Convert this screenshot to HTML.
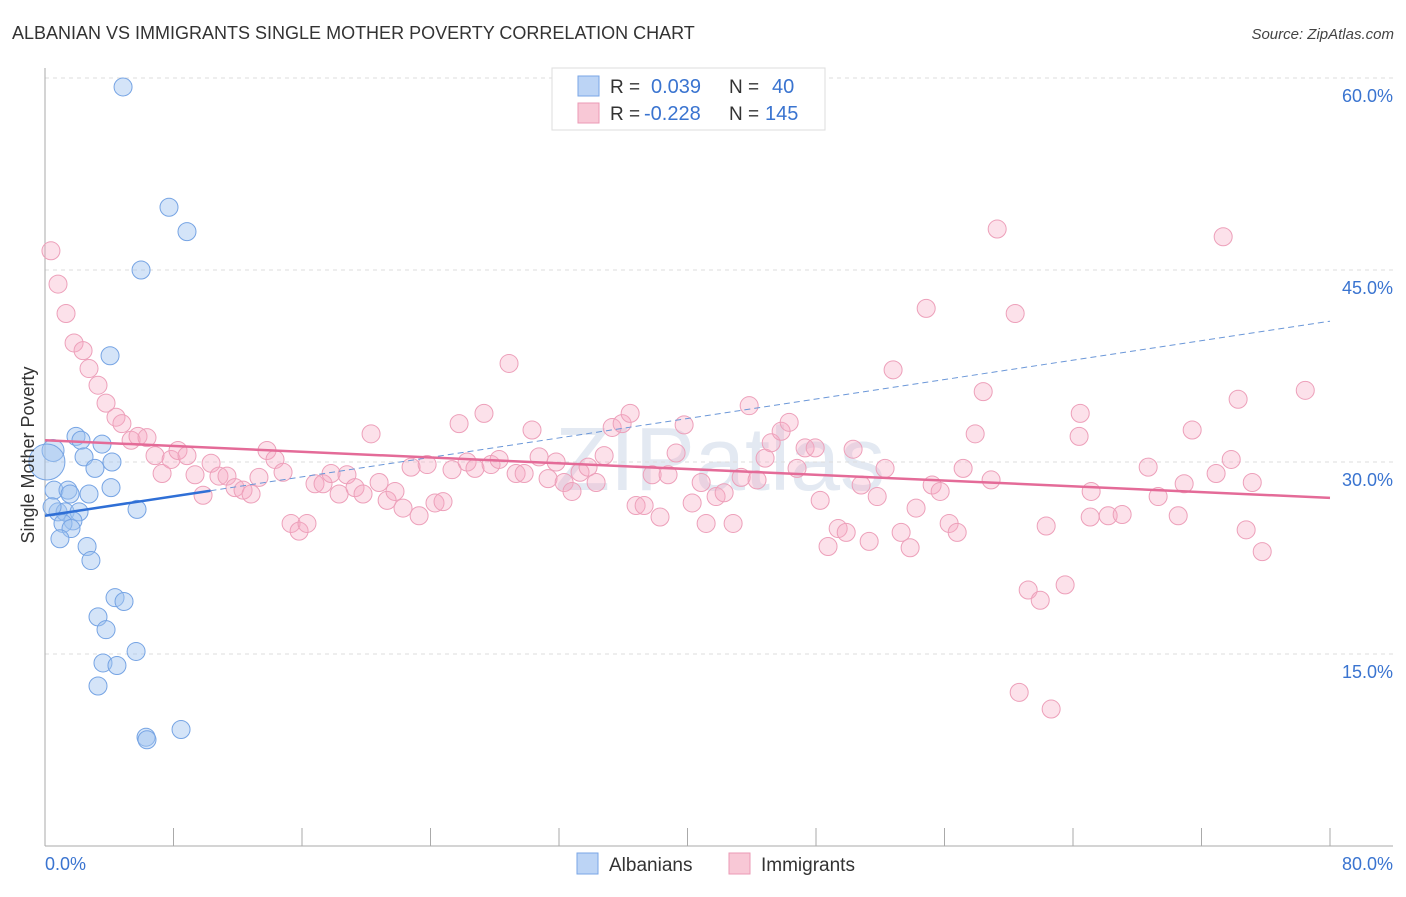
<!DOCTYPE html>
<html><head><meta charset="utf-8"><style>
body{margin:0;background:#fff;font-family:"Liberation Sans",sans-serif;}
svg text{font-family:"Liberation Sans",sans-serif;}
</style></head><body>
<svg id="chart" width="1406" height="892" viewBox="0 0 1406 892" xmlns="http://www.w3.org/2000/svg">
<text x="12" y="39" font-size="18" fill="#333">ALBANIAN VS IMMIGRANTS SINGLE MOTHER POVERTY CORRELATION CHART</text>
<text x="1394" y="39" font-size="15" fill="#444" text-anchor="end" font-style="italic">Source: ZipAtlas.com</text>
<text x="720" y="490" font-size="90" fill="#e3e9f2" text-anchor="middle" font-family="Liberation Serif">ZIPatlas</text>
<g id="grid"></g>
<g id="axes"></g>
<g id="points"></g>
<g id="trends"></g>
<text transform="translate(34,455) rotate(-90)" font-size="18" fill="#333" text-anchor="middle">Single Mother Poverty</text>
<g>
<rect x="552" y="68" width="273" height="62" fill="#fff" stroke="#ddd"/>
<rect x="578" y="76" width="21" height="20" fill="#bcd4f5" stroke="#7aa6e6"/>
<rect x="578" y="103" width="21" height="20" fill="#f8c8d6" stroke="#eb9ab5"/>
<text x="610" y="93" font-size="19" fill="#333">R =</text><text x="651" y="93" font-size="20" fill="#3a74d0">0.039</text>
<text x="729" y="93" font-size="19" fill="#333">N =</text><text x="772" y="93" font-size="20" fill="#3a74d0">40</text>
<text x="610" y="120" font-size="19" fill="#333">R =</text><text x="644" y="120" font-size="20" fill="#3a74d0">-0.228</text>
<text x="729" y="120" font-size="19" fill="#333">N =</text><text x="765" y="120" font-size="20" fill="#3a74d0">145</text>
</g>
<g>
<rect x="577" y="853" width="21" height="21" fill="#bcd4f5" stroke="#7aa6e6"/>
<text x="609" y="871" font-size="19" fill="#333">Albanians</text>
<rect x="729" y="853" width="21" height="21" fill="#f8c8d6" stroke="#eb9ab5"/>
<text x="761" y="871" font-size="19" fill="#333">Immigrants</text>
</g>
</svg>
<script>
const yTicks=[15,30,45,60];
const yTickLabels=["15.0%","30.0%","45.0%","60.0%"];
const xTicks=[0,8,16,24,32,40,48,56,64,72,80];
const xEndLabels=["0.0%","80.0%"];
const blueX=[4.86,7.72,8.84,5.98,4.05,0.5,1.93,2.24,3.55,0.12,2.43,4.17,3.11,0.56,1.43,1.56,2.74,4.11,5.73,0.81,1.25,2.12,1.74,1.12,1.62,0.93,2.62,2.86,4.36,4.92,3.30,3.80,5.67,3.61,4.48,3.30,6.29,6.35,8.47,0.44];
const blueY=[59.3,49.9,48.0,45.0,38.3,30.9,32.0,31.7,31.4,30.0,30.4,30.0,29.5,27.8,27.8,27.5,27.5,28.0,26.3,26.1,26.1,26.1,25.4,25.2,24.8,24.0,23.4,22.3,19.4,19.1,17.9,16.9,15.2,14.3,14.1,12.5,8.5,8.3,9.1,26.5];
const pinkX=[0.37,0.81,1.31,1.81,2.37,2.74,3.30,3.80,4.42,4.79,5.36,5.79,6.35,6.85,7.29,7.85,8.28,8.84,9.34,9.84,10.34,10.83,11.33,11.83,12.33,12.83,13.32,13.82,14.32,14.82,15.32,15.82,16.31,16.81,17.31,17.81,18.31,18.80,19.30,19.80,20.30,20.80,21.30,21.79,22.29,22.79,23.29,23.79,24.28,24.78,25.34,25.78,26.28,26.77,27.33,27.77,28.27,28.89,29.33,29.83,30.32,30.76,31.32,31.82,32.32,32.81,33.31,33.81,34.31,34.81,35.31,35.93,36.43,36.80,37.30,37.80,38.29,38.79,39.29,39.79,40.29,40.85,41.16,41.78,42.28,42.84,43.34,43.84,44.33,44.83,45.21,45.83,46.33,46.82,47.32,47.95,48.26,48.75,49.38,49.88,50.31,50.81,51.31,51.81,52.30,52.80,53.30,53.86,54.23,54.86,55.23,55.73,56.29,56.79,57.16,57.91,58.41,58.90,59.28,60.40,60.65,61.21,61.96,62.33,62.64,63.51,64.38,64.45,65.13,65.07,66.19,67.06,68.68,69.30,70.55,70.92,71.42,72.91,73.35,73.85,74.28,74.78,75.16,75.78,78.46];
const pinkY=[46.5,43.9,41.6,39.3,38.7,37.3,36.0,34.6,33.5,33.0,31.7,32.0,31.9,30.5,29.1,30.2,30.9,30.5,29.0,27.4,29.9,28.9,28.9,28.0,27.8,27.5,28.8,30.9,30.2,29.2,25.2,24.6,25.2,28.3,28.3,29.1,27.5,29.0,28.0,27.5,32.2,28.4,27.0,27.7,26.4,29.6,25.8,29.8,26.8,26.9,29.4,33.0,30.0,29.5,33.8,29.8,30.2,37.7,29.1,29.1,32.5,30.4,28.7,30.0,28.4,27.7,29.2,29.6,28.4,30.5,32.7,33.0,33.8,26.6,26.6,29.0,25.7,29.0,30.7,32.9,26.8,28.4,25.2,27.3,27.6,25.2,28.8,34.4,28.6,30.3,31.5,32.4,33.1,29.5,31.1,31.1,27.0,23.4,24.8,24.5,31.0,28.2,23.8,27.3,29.5,37.2,24.5,23.3,26.4,42.0,28.2,27.7,25.2,24.5,29.5,32.2,35.5,28.6,48.2,41.6,12.0,20.0,19.2,25.0,10.7,20.4,32.0,33.8,27.7,25.7,25.8,25.9,29.6,27.3,25.8,28.3,32.5,29.1,47.6,30.2,34.9,24.7,28.4,23.0,35.6];
const blueTrend=[25.8,41.0];
const pinkTrend=[31.7,27.2];

const NS="http://www.w3.org/2000/svg";
const X0=45,X1=1330,Y0=846,YTOP=78;
function sx(v){return X0+v/80*(X1-X0);}
function sy(v){return Y0-v/60*(Y0-YTOP);}
function mk(tag,attrs,parent){const e=document.createElementNS(NS,tag);for(const k in attrs)e.setAttribute(k,attrs[k]);parent.appendChild(e);return e;}
const grid=document.getElementById('grid'),axes=document.getElementById('axes'),pts=document.getElementById('points'),tr=document.getElementById('trends');
yTicks.forEach((t,i)=>{
 const l=mk('line',{x1:X0,x2:1393,y1:sy(t),y2:sy(t),stroke:'#ddd','stroke-dasharray':'4,4'},grid);
 
 
 const tx=mk('text',{x:1393,y:sy(t)+24,'font-size':18,fill:'#3a74d0','text-anchor':'end'},grid);
 tx.textContent=yTickLabels[i];
 
 
});
const ya=mk('line',{x1:X0,x2:X0,y1:68,y2:Y0,stroke:'#aaa'},axes);


const xa=mk('line',{x1:X0,x2:1393,y1:Y0,y2:Y0,stroke:'#aaa'},axes);


xTicks.forEach(t=>{
 const l=mk('line',{x1:sx(t),x2:sx(t),y1:828,y2:Y0,stroke:'#aaa'},axes);
 
 
});
const xl0=mk('text',{x:45,y:870,'font-size':18,fill:'#3a74d0'},axes);xl0.textContent=xEndLabels[0];


const xl1=mk('text',{x:1393,y:870,'font-size':18,fill:'#3a74d0','text-anchor':'end'},axes);xl1.textContent=xEndLabels[1];


pinkX.forEach((x,i)=>{
 const c=mk('circle',{cx:sx(x),cy:sy(pinkY[i]),r:9,fill:'rgba(245,170,195,0.35)',stroke:'#eda0ba','stroke-width':1},pts);
 
 
});
blueX.forEach((x,i)=>{
 const r=i===9?18:(i===5?11:9);
 const c=mk('circle',{cx:sx(x),cy:sy(blueY[i]),r:r,fill:'rgba(160,195,240,0.45)',stroke:'#76a4e4','stroke-width':1},pts);
 
 
});
const by=v=>blueTrend[0]+(blueTrend[1]-blueTrend[0])*v/80;
const bs=mk('line',{x1:sx(0),y1:sy(by(0)),x2:sx(10.3),y2:sy(by(10.3)),stroke:'#2f6fd6','stroke-width':2.5},tr);


const bd=mk('line',{x1:sx(10.3),y1:sy(by(10.3)),x2:sx(80),y2:sy(by(80)),stroke:'#6b97d8','stroke-width':1,'stroke-dasharray':'6,4'},tr);


const pl=mk('line',{x1:sx(0),y1:sy(pinkTrend[0]),x2:sx(80),y2:sy(pinkTrend[1]),stroke:'#e46b98','stroke-width':2.5},tr);


</script>
</body></html>
